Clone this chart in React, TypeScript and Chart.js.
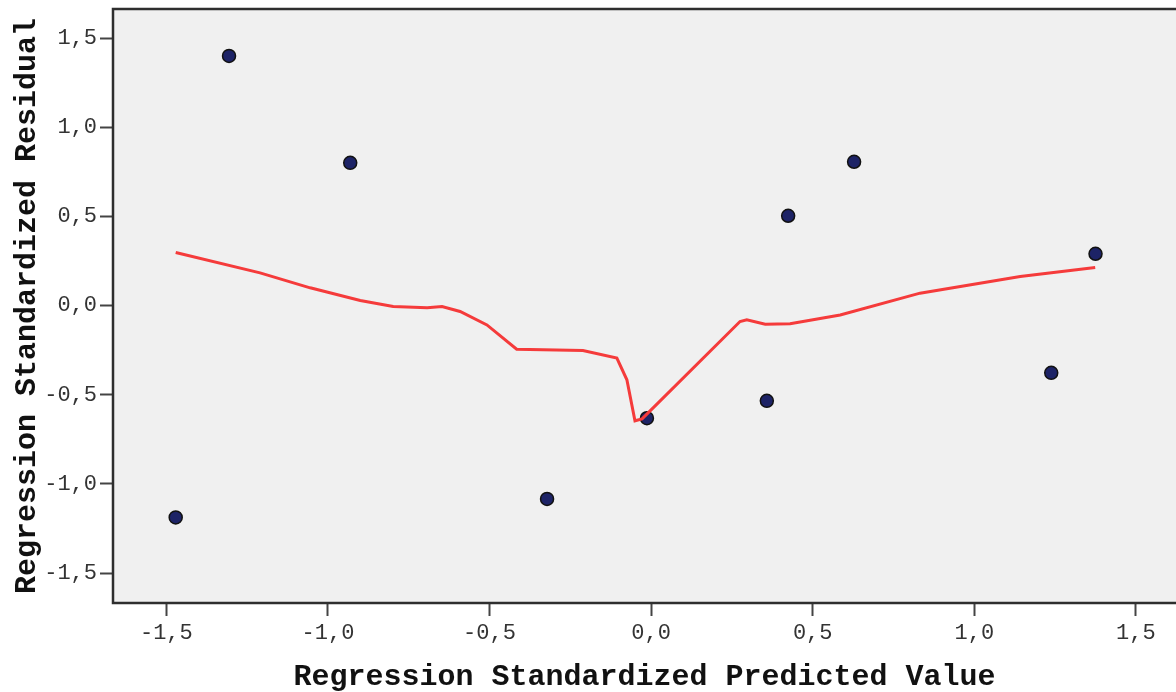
import React, { useEffect, useRef } from "react";
import { Chart, registerables } from "chart.js";

Chart.register(...registerables);

// Scatter: standardized predicted value vs standardized residual
const predictedValues = [-1.471, -1.306, -0.931, -0.322, -0.013, 0.358, 0.424, 0.628, 1.238, 1.375];
const residualValues = [-1.188, 1.401, 0.801, -1.084, -0.631, -0.534, 0.504, 0.807, -0.377, 0.291];

// Fit line (loess-like)
const fitX = [-1.471, -1.21, -1.055, -0.9, -0.798, -0.693, -0.647, -0.591, -0.508, -0.416, -0.211, -0.106, -0.075, -0.05, -0.028, 0.275, 0.296, 0.353, 0.43, 0.585, 0.832, 1.142, 1.374];
const fitY = [0.298, 0.184, 0.1, 0.029, -0.005, -0.012, -0.005, -0.033, -0.108, -0.244, -0.252, -0.294, -0.416, -0.646, -0.635, -0.089, -0.08, -0.104, -0.102, -0.052, 0.07, 0.163, 0.214];

const xTicks = [-1.5, -1.0, -0.5, 0.0, 0.5, 1.0, 1.5];
const xTickLabels = ["-1,5", "-1,0", "-0,5", "0,0", "0,5", "1,0", "1,5"];
const yTicks = [-1.5, -1.0, -0.5, 0.0, 0.5, 1.0, 1.5];
const yTickLabels = ["-1,5", "-1,0", "-0,5", "0,0", "0,5", "1,0", "1,5"];

const xTitle = "Regression Standardized Predicted Value";
const yTitle = "Regression Standardized Residual";

const framePlugin = {
  id: "frame",
  beforeDraw(chart: any) {
    const { ctx, chartArea: a } = chart;
    ctx.save();
    ctx.fillStyle = "#f0f0f0";
    ctx.fillRect(a.left, a.top, a.right - a.left, a.bottom - a.top);
    ctx.restore();
  },
  afterDraw(chart: any) {
    const { ctx, chartArea: a } = chart;
    ctx.save();
    ctx.strokeStyle = "#2e2e2e";
    ctx.lineWidth = 2.5;
    ctx.beginPath();
    ctx.moveTo(a.right + 5, a.top);
    ctx.lineTo(a.left, a.top);
    ctx.lineTo(a.left, a.bottom);
    ctx.lineTo(a.right + 5, a.bottom);
    ctx.stroke();
    ctx.restore();
  },
};

export default function App() {
  const ref = useRef<HTMLCanvasElement>(null);
  useEffect(() => {
    if (!ref.current) return;
    const tickFont = { family: "'Liberation Mono', monospace", size: 22 };
    const titleFont = { family: "'Liberation Mono', monospace", size: 30, weight: "bold" as const, lineHeight: 1 };
    const chart = new Chart(ref.current, {
      type: "scatter",
      data: {
        datasets: [
          {
            label: "fit",
            data: fitX.map((x, i) => ({ x, y: fitY[i] })),
            showLine: true,
            borderColor: "#f53b3b",
            borderWidth: 3,
            pointRadius: 0,
            tension: 0,
            order: 0,
          },
          {
            label: "obs",
            data: predictedValues.map((x, i) => ({ x, y: residualValues[i] })),
            backgroundColor: "#1d2366",
            borderColor: "#111111",
            borderWidth: 1.5,
            pointRadius: 6.5,
            order: 1,
          },
        ],
      },
      options: {
        responsive: false,
        animation: false,
        layout: { autoPadding: false, padding: { top: 9, left: 0, right: 0, bottom: 0 } },
        plugins: { legend: { display: false }, tooltip: { enabled: false } },
        scales: {
          x: {
            type: "linear",
            min: -1.665,
            max: 1.624,
            afterBuildTicks: (s: any) => {
              s.ticks = xTicks.map((v) => ({ value: v }));
            },
            afterFit: (s: any) => {
              s.height = 89;
              s.paddingLeft = 0;
              s.paddingRight = 0;
            },
            grid: { display: true, drawOnChartArea: false, drawTicks: true, tickLength: 13, tickWidth: 2, tickColor: "#444" },
            border: { display: false },
            ticks: {
              color: "#333",
              font: tickFont,
              padding: 4,
              maxRotation: 0,
              callback: (v: any) => {
                const i = xTicks.indexOf(Number(v));
                return i >= 0 ? xTickLabels[i] : "";
              },
            },
            title: { display: true, text: xTitle, color: "#111", font: titleFont, padding: { top: 0, bottom: 0 } },
          },
          y: {
            type: "linear",
            min: -1.668,
            max: 1.664,
            afterBuildTicks: (s: any) => {
              s.ticks = yTicks.map((v) => ({ value: v }));
            },
            afterFit: (s: any) => {
              s.width = 113;
              s.paddingTop = 0;
              s.paddingBottom = 0;
            },
            grid: { display: true, drawOnChartArea: false, drawTicks: true, tickLength: 13, tickWidth: 2, tickColor: "#444" },
            border: { display: false },
            ticks: {
              color: "#333",
              font: tickFont,
              padding: 3,
              callback: (v: any) => {
                const i = yTicks.indexOf(Number(v));
                return i >= 0 ? yTickLabels[i] : "";
              },
            },
            title: { display: true, text: yTitle, color: "#111", font: titleFont, padding: { top: 12, bottom: 0 } },
          },
        },
      },
      plugins: [framePlugin],
    });
    return () => chart.destroy();
  }, []);
  return (
    <div style={{ position: "fixed", left: 0, top: 0, width: 1176, height: 692, background: "#fff" }}>
      <canvas ref={ref} width={1176} height={692} style={{ display: "block" }} />
    </div>
  );
}
